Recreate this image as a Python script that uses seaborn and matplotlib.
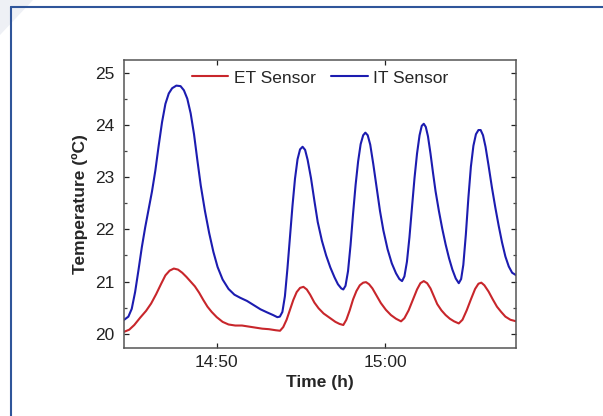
import numpy as np
import pandas as pd
import seaborn as sns
import matplotlib.pyplot as plt
from matplotlib.lines import Line2D
from matplotlib.patches import Polygon
from matplotlib.ticker import FixedLocator, MultipleLocator, FuncFormatter

# === Data (time in minutes after 14:00, temperature in ºC) ===
it_time = [44.50, 44.75, 44.95, 45.15, 45.35, 45.55, 45.75, 45.95, 46.15, 46.35,
           46.55, 46.75, 46.95, 47.15, 47.35, 47.60, 47.85, 48.05, 48.25, 48.45,
           48.65, 48.85, 49.05, 49.30, 49.55, 49.80, 50.05, 50.35, 50.70, 51.05,
           51.40, 51.80, 52.20, 52.60, 53.00, 53.35, 53.60, 53.75,
           53.90, 54.05, 54.20, 54.35, 54.50, 54.65, 54.80, 54.95, 55.10, 55.25,
           55.40, 55.60, 55.80, 56.00, 56.25, 56.50, 56.75, 57.00, 57.20, 57.40, 57.52,
           57.65, 57.80, 57.95, 58.10, 58.25, 58.40, 58.55, 58.70, 58.83, 58.97,
           59.12, 59.30, 59.50, 59.70, 59.90, 60.15, 60.40, 60.65, 60.85, 61.01,
           61.15, 61.30, 61.45, 61.60, 61.75, 61.90, 62.05, 62.18, 62.30, 62.42,
           62.55, 62.70, 62.85, 63.00, 63.20, 63.40, 63.60, 63.80, 64.00, 64.20, 64.38,
           64.52, 64.65, 64.80, 64.95, 65.10, 65.25, 65.40, 65.55, 65.68, 65.82,
           65.97, 66.15, 66.35, 66.55, 66.75, 66.95, 67.15, 67.35, 67.55, 67.80]
it_temp = [20.27, 20.33, 20.48, 20.80, 21.22, 21.66, 22.04, 22.38, 22.72, 23.12,
           23.60, 24.05, 24.40, 24.60, 24.70, 24.75, 24.74, 24.66, 24.50, 24.22,
           23.82, 23.32, 22.84, 22.35, 21.93, 21.57, 21.28, 21.04, 20.86, 20.75,
           20.69, 20.63, 20.55, 20.47, 20.41, 20.36, 20.32, 20.33,
           20.42, 20.72, 21.25, 21.85, 22.45, 22.97, 23.34, 23.53, 23.58, 23.52,
           23.33, 22.98, 22.55, 22.14, 21.78, 21.50, 21.27, 21.08, 20.95, 20.87, 20.85,
           20.92, 21.20, 21.70, 22.30, 22.85, 23.30, 23.63, 23.80, 23.85, 23.80,
           23.62, 23.25, 22.80, 22.35, 21.98, 21.62, 21.35, 21.16, 21.05, 21.01,
           21.10, 21.38, 21.85, 22.42, 22.98, 23.45, 23.80, 23.98, 24.02, 23.96,
           23.78, 23.45, 23.08, 22.73, 22.35, 22.01, 21.71, 21.45, 21.23, 21.06, 20.97,
           21.05, 21.32, 21.90, 22.60, 23.20, 23.60, 23.82, 23.90, 23.90, 23.80,
           23.58, 23.22, 22.80, 22.42, 22.07, 21.75, 21.48, 21.29, 21.17, 21.12]

et_time = [44.50, 44.80, 45.10, 45.45, 45.80, 46.10, 46.40, 46.70, 46.95, 47.20,
           47.45, 47.70, 47.95, 48.20, 48.45, 48.70, 48.95, 49.20, 49.45, 49.70,
           50.00, 50.35, 50.70, 51.10, 51.50, 51.90, 52.30, 52.70, 53.10, 53.50,
           53.76, 53.95, 54.15, 54.35, 54.55, 54.75, 54.95, 55.15, 55.35, 55.55,
           55.80, 56.05, 56.35, 56.70, 57.05, 57.30, 57.52, 57.70, 57.90, 58.10,
           58.30, 58.50, 58.70, 58.87, 59.05, 59.25, 59.50, 59.75, 60.05, 60.35,
           60.65, 60.95, 61.15, 61.40, 61.65, 61.90, 62.10, 62.30, 62.50, 62.70,
           62.90, 63.10, 63.35, 63.60, 63.85, 64.10, 64.38, 64.60, 64.85, 65.10,
           65.35, 65.55, 65.72, 65.90, 66.15, 66.40, 66.65, 66.90, 67.15, 67.45, 67.80]
et_temp = [20.04, 20.08, 20.17, 20.31, 20.44, 20.58, 20.76, 20.96, 21.12, 21.21,
           21.25, 21.23, 21.17, 21.09, 21.00, 20.91, 20.79, 20.65, 20.52, 20.42,
           20.32, 20.23, 20.18, 20.16, 20.16, 20.14, 20.12, 20.10, 20.09, 20.07,
           20.06, 20.13, 20.27, 20.46, 20.65, 20.80, 20.88, 20.90, 20.85, 20.75,
           20.60, 20.49, 20.39, 20.31, 20.23, 20.19, 20.17, 20.27, 20.45, 20.66,
           20.82, 20.93, 20.98, 20.99, 20.95, 20.87, 20.73, 20.59, 20.46, 20.36,
           20.29, 20.24, 20.30, 20.45, 20.65, 20.85, 20.97, 21.01, 20.97, 20.87,
           20.72, 20.57, 20.45, 20.36, 20.29, 20.24, 20.20, 20.27, 20.45, 20.66,
           20.86, 20.96, 20.98, 20.93, 20.81, 20.66, 20.52, 20.42, 20.33, 20.27, 20.24]

sensor_names = ["ET Sensor", "IT Sensor"]
sensor_colors = {"ET Sensor": "#c8262b", "IT Sensor": "#1c1cb0"}

df = pd.concat([
    pd.DataFrame({"time": et_time, "temp": et_temp, "sensor": sensor_names[0]}),
    pd.DataFrame({"time": it_time, "temp": it_temp, "sensor": sensor_names[1]}),
])

# === Style ===
sns.set_style("ticks")
plt.rcParams['font.family'] = ['Liberation Sans', 'DejaVu Sans']

fig = plt.figure(figsize=(6.03, 4.16), dpi=100)
ax = fig.add_axes([124 / 603, 1 - 348 / 416, 392 / 603, 288 / 416])

sns.lineplot(data=df, x="time", y="temp", hue="sensor", hue_order=sensor_names,
             palette=sensor_colors, linewidth=1.5, sort=False, estimator=None, ax=ax)

ax.set_xlim(44.49, 67.78)
ax.set_ylim(19.73, 25.24)

ax.xaxis.set_major_locator(FixedLocator([50, 60]))
ax.xaxis.set_major_formatter(FuncFormatter(lambda v, p: f"{14 + int(v) // 60}:{int(v) % 60:02d}"))
ax.yaxis.set_major_locator(MultipleLocator(1))
ax.yaxis.set_minor_locator(MultipleLocator(0.5))

ax.tick_params(which="both", direction="in", top=True, right=True, color="#444444")
ax.tick_params(which="major", length=3.5, width=0.9, labelsize=12.5, colors="#222222")
ax.tick_params(axis="y", which="major", pad=7)
ax.tick_params(axis="x", which="major", pad=5)
ax.tick_params(which="minor", length=2.2, width=0.9)
for s in ax.spines.values():
    s.set_color("#555555")
    s.set_linewidth(1.1)

ax.set_xlabel("Time (h)", fontsize=12.5, fontweight="bold", labelpad=4)
ax.set_ylabel("Temperature (ºC)", fontsize=12.5, fontweight="bold", labelpad=5)

ax.legend(loc="upper center", ncol=2, frameon=False, fontsize=12.5,
          handlelength=2.1, handletextpad=0.3, columnspacing=0.9, borderaxespad=0.2)

# === Page frame ===
fig.add_artist(Polygon([[0, 1], [33 / 603, 1], [0, 1 - 35 / 416]], closed=True,
                       transform=fig.transFigure, facecolor="#eef0f5", edgecolor="none"))
fig.add_artist(Line2D([11 / 603, 1], [1 - 7 / 416, 1 - 7 / 416], transform=fig.transFigure,
                      color="#2f559a", linewidth=1.5))
fig.add_artist(Line2D([11 / 603, 11 / 603], [0, 1 - 7 / 416], transform=fig.transFigure,
                      color="#2f559a", linewidth=1.5))

fig.savefig("out.png", dpi=100)
print("saved out.png")
